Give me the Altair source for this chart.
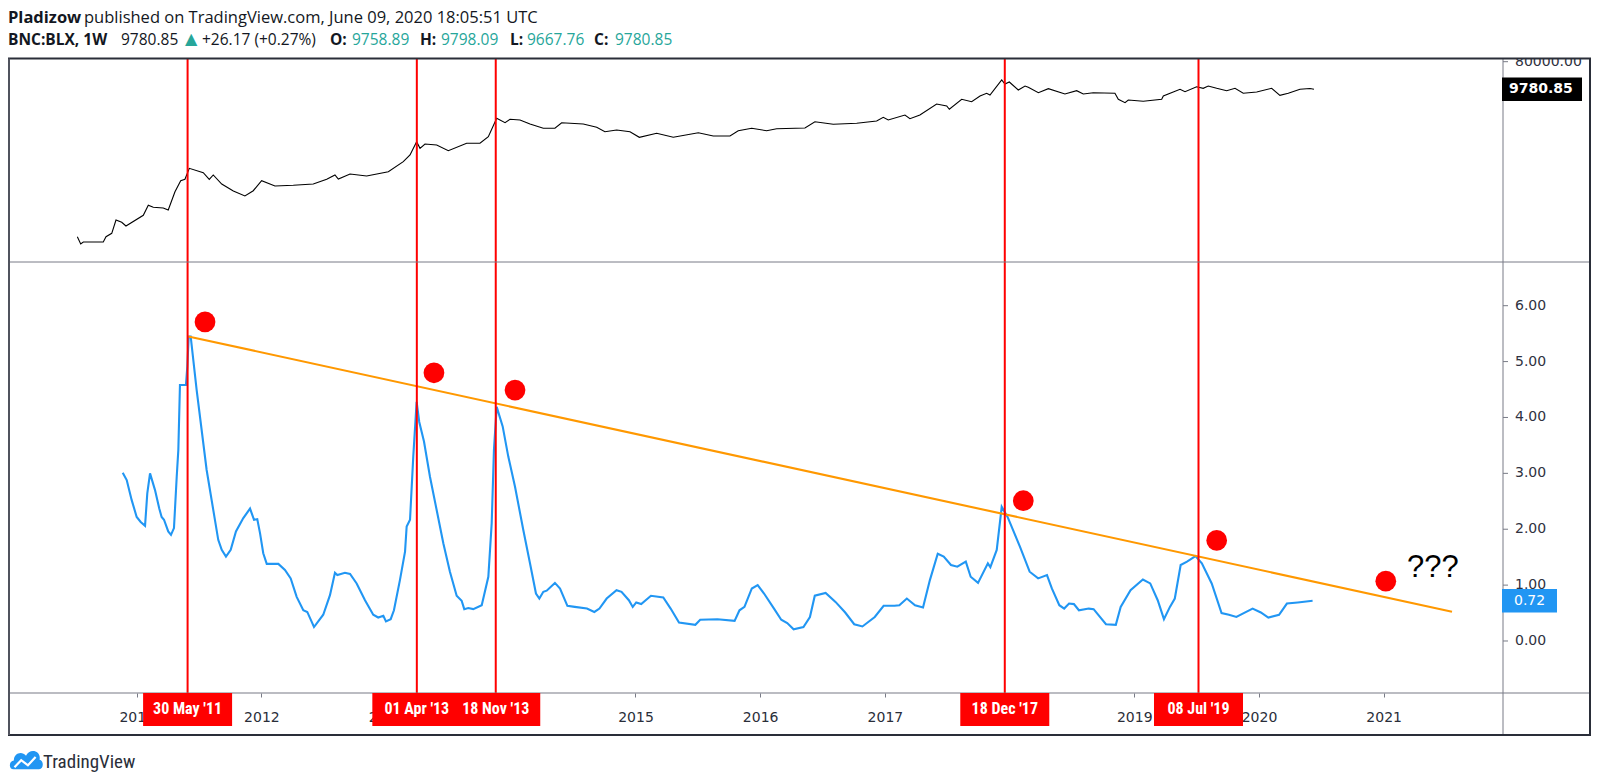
import altair as alt
import pandas as pd

# ---------------- data ----------------
# Top panel: BNC:BLX weekly close (log scale)
price_year = [2010.524, 2010.551, 2010.572, 2010.732, 2010.754, 2010.800, 2010.834, 2010.880, 2010.914,
              2011.053, 2011.093, 2011.133, 2011.213, 2011.253, 2011.307, 2011.353, 2011.387, 2011.422,
              2011.534, 2011.582, 2011.614, 2011.682, 2011.775, 2011.868, 2011.935, 2012.002, 2012.109,
              2012.256, 2012.416, 2012.524, 2012.590, 2012.617, 2012.711, 2012.844, 2013.018, 2013.138,
              2013.192, 2013.245, 2013.272, 2013.312, 2013.406, 2013.499, 2013.646, 2013.753, 2013.820,
              2013.887, 2013.954, 2013.994, 2014.074, 2014.154, 2014.261, 2014.354, 2014.408, 2014.581,
              2014.689, 2014.755, 2014.849, 2014.956, 2015.031, 2015.170, 2015.303, 2015.504, 2015.624,
              2015.758, 2015.824, 2015.932, 2016.052, 2016.132, 2016.359, 2016.439, 2016.586, 2016.774,
              2016.934, 2016.987, 2017.027, 2017.161, 2017.201, 2017.281, 2017.415, 2017.496, 2017.517,
              2017.616, 2017.696, 2017.763, 2017.816, 2017.843, 2017.937, 2017.963, 2017.998, 2018.070,
              2018.124, 2018.150, 2018.231, 2018.311, 2018.444, 2018.538, 2018.591, 2018.671, 2018.845,
              2018.872, 2018.926, 2018.952, 2019.072, 2019.220, 2019.233, 2019.367, 2019.407, 2019.500,
              2019.553, 2019.593, 2019.661, 2019.741, 2019.808, 2019.874, 2019.982, 2020.102, 2020.168,
              2020.235, 2020.329, 2020.409, 2020.441]
price_value = [0.128, 0.074, 0.086, 0.086, 0.128, 0.166, 0.458, 0.385, 0.290,
               0.656, 1.41, 1.21, 1.15, 0.98, 3.96, 9.18, 10.2, 23.6,
               16.9, 10.2, 14.2, 7.13, 4.19, 2.86, 4.28, 9.18, 6.12,
               6.46, 7.13, 10.2, 14.2, 10.4, 15.3, 13.1, 18.2, 39.1,
               65.2, 179, 108, 151, 140, 90.4, 159, 159, 263,
               1069, 764, 990, 940, 692, 499, 499, 764, 692,
               538, 385, 438, 385, 251, 340, 251, 356, 277,
               277, 415, 499, 415, 483, 510, 824, 676, 730,
               869, 1153, 940, 1374, 1037, 1374, 3177, 2729, 2123,
               4550, 3784, 5848, 7194, 6310, 19820, 14620, 17020, 9250,
               12530, 11350, 7530, 10210, 6810, 8770, 6810, 7530, 7190,
               4550, 3510, 4315, 3910, 4550, 5848, 9750, 8125, 11890,
               10520, 12530, 10520, 8770, 10520, 7190, 7940, 10520, 6170,
               7190, 9750, 10370, 9780.85]

# Bottom panel: oscillator (blue)
osc_year = [2010.888, 2010.920, 2010.960, 2011.000, 2011.032, 2011.067, 2011.085, 2011.107, 2011.147,
            2011.181, 2011.200, 2011.219, 2011.253, 2011.275, 2011.299, 2011.321, 2011.334, 2011.347,
            2011.395, 2011.406, 2011.417, 2011.433, 2011.481, 2011.561, 2011.654, 2011.682, 2011.716,
            2011.754, 2011.796, 2011.855, 2011.909, 2011.941, 2011.967, 2011.989, 2012.015, 2012.043,
            2012.136, 2012.189, 2012.235, 2012.283, 2012.336, 2012.368, 2012.422, 2012.496, 2012.550,
            2012.590, 2012.609, 2012.670, 2012.711, 2012.764, 2012.831, 2012.897, 2012.937, 2012.978,
            2012.999, 2013.037, 2013.063, 2013.111, 2013.152, 2013.165, 2013.192, 2013.218, 2013.245,
            2013.266, 2013.304, 2013.352, 2013.406, 2013.459, 2013.512, 2013.566, 2013.606, 2013.627,
            2013.659, 2013.699, 2013.767, 2013.820, 2013.847, 2013.865, 2013.887, 2013.935, 2013.980,
            2014.034, 2014.100, 2014.154, 2014.202, 2014.229, 2014.261, 2014.288, 2014.354, 2014.395,
            2014.454, 2014.513, 2014.611, 2014.670, 2014.711, 2014.769, 2014.848, 2014.888, 2014.947,
            2014.978, 2015.006, 2015.046, 2015.124, 2015.223, 2015.282, 2015.349, 2015.480, 2015.519,
            2015.657, 2015.795, 2015.834, 2015.874, 2015.933, 2015.980, 2016.031, 2016.111, 2016.169,
            2016.217, 2016.268, 2016.347, 2016.399, 2016.438, 2016.525, 2016.604, 2016.682, 2016.754,
            2016.820, 2016.919, 2016.990, 2017.077, 2017.116, 2017.176, 2017.242, 2017.306, 2017.361,
            2017.424, 2017.472, 2017.530, 2017.581, 2017.649, 2017.688, 2017.747, 2017.826, 2017.846,
            2017.897, 2017.937, 2017.984, 2018.083, 2018.161, 2018.229, 2018.300, 2018.339, 2018.399,
            2018.438, 2018.477, 2018.516, 2018.556, 2018.635, 2018.674, 2018.773, 2018.852, 2018.891,
            2018.970, 2019.069, 2019.128, 2019.188, 2019.238, 2019.286, 2019.325, 2019.372, 2019.423,
            2019.491, 2019.542, 2019.621, 2019.700, 2019.759, 2019.819, 2019.878, 2019.949, 2020.015,
            2020.075, 2020.161, 2020.224, 2020.311, 2020.430]
osc_value = [3.01, 2.88, 2.52, 2.22, 2.13, 2.06, 2.64, 3.00, 2.70,
             2.37, 2.22, 2.17, 1.96, 1.90, 2.02, 2.94, 3.42, 4.58,
             4.58, 4.91, 5.45, 5.45, 4.49, 3.06, 1.81, 1.63, 1.51,
             1.63, 1.96, 2.20, 2.37, 2.17, 2.18, 1.93, 1.57, 1.38,
             1.38, 1.27, 1.12, 0.79, 0.55, 0.52, 0.25, 0.47, 0.82,
             1.22, 1.18, 1.22, 1.20, 1.03, 0.73, 0.47, 0.42, 0.45,
             0.35, 0.39, 0.55, 1.09, 1.60, 2.05, 2.17, 3.30, 4.28,
             3.92, 3.57, 2.94, 2.34, 1.75, 1.24, 0.81, 0.72, 0.57,
             0.59, 0.57, 0.64, 1.15, 2.11, 3.42, 4.19, 3.84, 3.30,
             2.76, 1.99, 1.39, 0.85, 0.76, 0.88, 0.90, 1.04, 0.94,
             0.63, 0.61, 0.58, 0.52, 0.58, 0.76, 0.91, 0.88, 0.73,
             0.61, 0.69, 0.66, 0.81, 0.78, 0.58, 0.33, 0.29, 0.38,
             0.39, 0.36, 0.55, 0.61, 0.94, 1.00, 0.85, 0.58, 0.38,
             0.32, 0.21, 0.25, 0.43, 0.81, 0.86, 0.70, 0.51, 0.30,
             0.26, 0.43, 0.63, 0.63, 0.64, 0.76, 0.64, 0.60, 1.09,
             1.56, 1.51, 1.36, 1.33, 1.42, 1.15, 1.04, 1.39, 1.32,
             1.63, 2.40, 2.22, 1.69, 1.24, 1.12, 1.18, 0.94, 0.64,
             0.58, 0.67, 0.66, 0.55, 0.58, 0.57, 0.30, 0.29, 0.61,
             0.91, 1.10, 1.03, 0.73, 0.39, 0.61, 0.76, 1.36, 1.42,
             1.52, 1.39, 1.03, 0.50, 0.47, 0.43, 0.50, 0.58, 0.51,
             0.42, 0.47, 0.67, 0.69, 0.72]

# Orange trend line (two anchor points)
trend_year = [2011.414, 2021.548]
trend_value = [5.45, 0.524]

# Vertical event markers
event_date = ["2011-05-30", "2013-04-01", "2013-11-18", "2017-12-18", "2019-07-08"]
event_label = ["30 May '11", "01 Apr '13", "18 Nov '13", "18 Dec '17", "08 Jul '19"]

# Red dots
dot_year = [2011.548, 2013.384, 2014.034, 2018.110, 2019.661, 2021.017]
dot_value = [5.71, 4.80, 4.49, 2.51, 1.80, 1.07]

# "???" annotation anchor
note_year = [2021.395]
note_value = [1.31]
note_text = ["???"]

# Axis ticks / labels
year_ticks = [2011, 2012, 2013, 2014, 2015, 2016, 2017, 2018, 2019, 2020, 2021]
osc_ticks = [0, 1, 2, 3, 4, 5, 6]
price_ticks = [80000]
last_price = [9780.85]
last_osc = [0.72]

# Header texts
author = "Pladizow"
published = "published on TradingView.com, June 09, 2020 18:05:51 UTC"
symbol = "BNC:BLX, 1W"
last_txt = "9780.85"
change_txt = "+26.17 (+0.27%)"
ohlc_names = ["O:", "H:", "L:", "C:"]
ohlc_values = ["9758.89", "9798.09", "9667.76", "9780.85"]


# ---------------- helpers ----------------
def to_year(s):
    t = pd.Timestamp(s)
    days = 366 if t.is_leap_year else 365
    return t.year + (t.dayofyear - 1) / days


price_df = pd.DataFrame({"year": price_year, "price": price_value})
osc_df = pd.DataFrame({"year": osc_year, "osc": osc_value})
trend_df = pd.DataFrame({"year": trend_year, "v": trend_value})
event_df = pd.DataFrame({"year": [to_year(d) for d in event_date], "label": event_label})
dot_df = pd.DataFrame({"year": dot_year, "v": dot_value})
note_df = pd.DataFrame({"year": note_year, "v": note_value, "t": note_text})
osc_tick_df = pd.DataFrame({"v": osc_ticks, "label": [f"{v:.2f}" for v in osc_ticks]})
price_tick_df = pd.DataFrame({"p": price_ticks, "label": [f"{v:.2f}" for v in price_ticks]})
last_price_df = pd.DataFrame({"p": last_price, "label": [f"{v:.2f}" for v in last_price]})
last_osc_df = pd.DataFrame({"v": last_osc, "label": [f"{v:.2f}" for v in last_osc]})
one = pd.DataFrame({"k": [0]})

W, H = 1495, 634.5
TOP_H = 203.5
RIGHT = 1582
BOTTOM = 676.5

AXIS_FONT = "DejaVu Sans"
GRID = "#787b86"
TXT = "#131722"
TEAL = "#26a69a"
NARROW = "Liberation Sans Narrow, Roboto Condensed, Roboto, sans-serif"

xscale = alt.Scale(domain=[2009.968, 2021.957], nice=False, zero=False)
xaxis = alt.Axis(values=year_ticks, format="d", title=None, grid=False, domain=False,
                 ticks=True, tickSize=4, tickColor=GRID, labelFont=AXIS_FONT, labelFontSize=14,
                 labelColor="#2a2e39", labelBaseline="middle", labelPadding=20,
                 labelFlush=False, labelOverlap=False, zindex=0)
ytop = alt.Scale(type="log", domain=[0.01866, 102100], range=[TOP_H, 0], nice=False)
ybot = alt.Scale(domain=[-0.9306, 6.782], range=[H, TOP_H], nice=False, zero=False)


def X(f):
    return alt.X(f, type="quantitative", scale=xscale, axis=xaxis)


def YT(f):
    return alt.Y(f, type="quantitative", scale=ytop, axis=None)


def YB(f):
    return alt.Y(f, type="quantitative", scale=ybot, axis=None)


def hrule(y, x0, x1, color, w):
    return alt.Chart(one).mark_rule(color=color, strokeWidth=w).encode(
        x=alt.value(x0), x2=alt.value(x1), y=alt.value(y))


def vrule(x, y0, y1, color, w):
    return alt.Chart(one).mark_rule(color=color, strokeWidth=w).encode(
        x=alt.value(x), y=alt.value(y0), y2=alt.value(y1))


def label(text, x, y, **kw):
    style = dict(align="left", baseline="middle")
    style.update(kw)
    return alt.Chart(one).mark_text(text=text, **style).encode(x=alt.value(x), y=alt.value(y))


BOX = "M-1,-0.371L1,-0.371L1,0.371L-1,0.371Z"
BOX_OSC = "M-1,-0.43L1,-0.43L1,0.43L-1,0.43Z"
BOX_PRICE = "M-1,-0.291L1,-0.291L1,0.291L-1,0.291Z"
CLOUD = ("M-0.78,0.55C-1.08,0.55 -1.1,0.04 -0.76,0.0C-0.76,-0.46 -0.26,-0.62 0.0,-0.3"
         "C0.2,-0.78 0.96,-0.66 0.85,-0.05C1.12,0.0 1.12,0.55 0.82,0.55Z")
ZIGZAG = "M-0.72,0.42L-0.3,-0.02L0.12,0.3L0.6,-0.22"

layers = []

# series
layers.append(alt.Chart(price_df).mark_line(color="black", strokeWidth=1.1).encode(x=X("year"), y=YT("price")))
layers.append(alt.Chart(osc_df).mark_line(color="#2196f3", strokeWidth=2.1).encode(x=X("year"), y=YB("osc")))
layers.append(alt.Chart(trend_df).mark_line(color="#ff9800", strokeWidth=2.1).encode(x=X("year"), y=YB("v")))
layers.append(alt.Chart(event_df).mark_rule(color="#ff0000", strokeWidth=2).encode(
    x=X("year"), y=alt.value(0), y2=alt.value(H)))
layers.append(alt.Chart(dot_df).mark_circle(color="#ff0000", size=430, opacity=1).encode(x=X("year"), y=YB("v")))
layers.append(alt.Chart(note_df).mark_text(font="Liberation Sans", fontSize=31, color="black",
                                           align="center", baseline="middle").encode(
    x=X("year"), y=YB("v"), text="t"))

# frame
layers.append(hrule(TOP_H, 0, RIGHT, GRID, 1))
layers.append(hrule(H, 0, RIGHT, GRID, 1.2))
layers.append(vrule(W, 0, BOTTOM, GRID, 1))

# right axis: oscillator ticks
layers.append(alt.Chart(osc_tick_df).mark_rule(color=GRID).encode(x=alt.value(W), x2=alt.value(W + 5), y=YB("v")))
layers.append(alt.Chart(osc_tick_df).mark_text(font=AXIS_FONT, fontSize=14, color="#2f3241",
                                               align="left", baseline="middle").encode(
    x=alt.value(W + 12), y=YB("v"), text="label"))
# right axis: price ticks
layers.append(alt.Chart(price_tick_df).mark_rule(color=GRID).encode(x=alt.value(W), x2=alt.value(W + 5), y=YT("p")))
layers.append(alt.Chart(price_tick_df).mark_text(font=AXIS_FONT, fontSize=14, color="#2f3241",
                                                 align="left", baseline="middle").encode(
    x=alt.value(W + 12), y=YT("p"), text="label"))
layers.append(alt.Chart(one).mark_rect(color="white").encode(
    x=alt.value(W + 1), x2=alt.value(RIGHT), y=alt.value(-12), y2=alt.value(0)))

# last value boxes
layers.append(alt.Chart(last_osc_df).mark_point(shape=BOX_OSC, size=55 ** 2, filled=True, color="#2196f3",
                                                opacity=1, strokeWidth=0).encode(
    x=alt.value(W + 26.5), y=YB("v")))
layers.append(alt.Chart(last_osc_df).mark_text(font=AXIS_FONT, fontSize=14, color="white",
                                               align="left", baseline="middle").encode(
    x=alt.value(W + 11), y=YB("v"), text="label"))
layers.append(alt.Chart(last_price_df).mark_point(shape=BOX_PRICE, size=80 ** 2, filled=True, color="black",
                                                  opacity=1, strokeWidth=0).encode(
    x=alt.value(W + 39), y=YT("p")))
layers.append(alt.Chart(last_price_df).mark_text(font=AXIS_FONT, fontSize=14, color="white", fontWeight="bold",
                                                 align="left", baseline="middle").encode(
    x=alt.value(W + 6), y=YT("p"), text="label"))

# event date boxes on the time axis
layers.append(alt.Chart(event_df).mark_point(shape=BOX, size=89 ** 2, filled=True, color="#ff0000",
                                             opacity=1, strokeWidth=0).encode(
    x=X("year"), y=alt.value(H + 16.5)))
layers.append(alt.Chart(event_df).mark_text(font=NARROW, fontSize=16, fontWeight="bold", color="white",
                                            align="center", baseline="middle").encode(
    x=X("year"), y=alt.value(H + 16), text="label"))

# outer border
layers.append(hrule(0, 0, RIGHT + 1, "#2a2e39", 2))
layers.append(hrule(BOTTOM, 0, RIGHT + 1, "#2a2e39", 2))
layers.append(vrule(1, 0, BOTTOM, "#50535e", 2))
layers.append(vrule(RIGHT, 0, BOTTOM, "#2a2e39", 2))

# header
HF = "Open Sans"
HS = 16.5
HS2 = 15.5
layers.append(label(author, 0, -41, font=HF, fontSize=HS, fontWeight="bold", color=TXT))
layers.append(label(published, 76, -41, font=HF, fontSize=HS, color=TXT))
layers.append(label(symbol, 0, -19, font=HF, fontSize=HS2, fontWeight="bold", color=TXT))
layers.append(label(last_txt, 113, -19, font=HF, fontSize=HS2, color=TXT))
layers.append(label("\u25b2", 177, -19.5, font="DejaVu Sans", fontSize=16, color=TEAL))
layers.append(label(change_txt, 194, -19, font=HF, fontSize=HS2, color=TXT))
for name, val, xn, xv in zip(ohlc_names, ohlc_values, [322, 412, 502, 586], [344, 433, 519, 607]):
    layers.append(label(name, xn, -19, font=HF, fontSize=HS2, fontWeight="bold", color=TXT))
    layers.append(label(val, xv, -19, font=HF, fontSize=HS2, color=TEAL))

# footer logo
layers.append(alt.Chart(one).mark_point(shape=CLOUD, size=32 ** 2, filled=True, color="#2196f3",
                                        opacity=1, strokeWidth=0).encode(x=alt.value(18), y=alt.value(702)))
layers.append(alt.Chart(one).mark_point(shape=ZIGZAG, size=32 ** 2, filled=False, color="white",
                                        opacity=1, strokeWidth=2.2).encode(x=alt.value(18), y=alt.value(702)))
layers.append(label("TradingView", 35, 703, font=NARROW, fontSize=19, color="#2a2e39"))

chart = alt.layer(*layers).resolve_scale(y="independent").properties(
    width=W, height=H,
    autosize=alt.AutoSizeParams(type="none"),
    padding={"left": 0, "top": 50.5, "right": 88, "bottom": 80},
    background="white",
).configure_view(stroke=None)

chart.save("out.html", embed_options={"renderer": "svg", "actions": False})
